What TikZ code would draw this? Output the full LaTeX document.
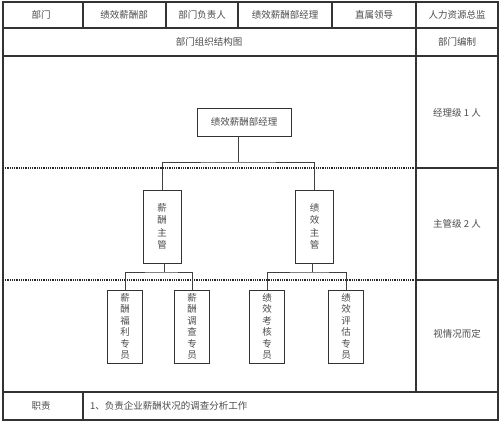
\documentclass[tikz,border=0pt]{standalone}
\usepackage{fontspec}
\newfontfamily\cjk{Noto Sans CJK SC}
\begin{document}
\begin{tikzpicture}[x=1pt,y=-1pt,
  tbl/.style={draw=black!80, line width=1.1pt},
  dotl/.style={draw=black!85, line width=1.6pt, dash pattern=on 1pt off 0.8pt},
  lbl/.style={font=\cjk\fontsize{9.5}{12}\selectfont, text=black!70, inner sep=0pt},
  box/.style={draw=black!80, line width=0.9pt, inner sep=0pt, font=\cjk\fontsize{9.5}{12.5}\selectfont, text=black!70, align=center},
  wire/.style={draw=black!75, line width=0.9pt}]
\fill[white] (0,0) rectangle (500,421);
\useasboundingbox (0,0) rectangle (500,421);
% table frame
\draw[tbl] (3,2) rectangle (498,420);
\draw[tbl] (3,28) -- (498,28);
\draw[tbl] (3,56) -- (498,56);
\draw[tbl] (3,392) -- (498,392);
\foreach \x in {83,166,238,332,416} \draw[tbl] (\x,2) -- (\x,28);
\draw[tbl] (416,28) -- (416,392);
\draw[tbl] (83,392) -- (83,420);
\draw[tbl] (416,168) -- (498,168);
\draw[tbl] (416,280) -- (498,280);
\draw[dotl] (3,168) -- (416,168);
\draw[dotl] (3,280) -- (416,280);
% header texts
\node[lbl] (h1) at (41,15) {部门};
\node[lbl] (h2) at (124,15) {绩效薪酬部};
\node[lbl] (h3) at (202,15) {部门负责人};
\node[lbl] (h4) at (285,15) {绩效薪酬部经理};
\node[lbl] (h5) at (374,15) {直属领导};
\node[lbl] (h6) at (457,15) {人力资源总监};
\node[lbl] (t1) at (209,42) {部门组织结构图};
\node[lbl] (t2) at (457,42) {部门编制};
\node[lbl] (r1) at (457,113) {经理级 1 人};
\node[lbl] (r2) at (457,224) {主管级 2 人};
\node[lbl] (r3) at (457,334) {视情况而定};
\node[lbl] (b1) at (41,406) {职责};
\node[lbl, anchor=west] (b2) at (90,406) {1、负责企业薪酬状况的调查分析工作};
% org chart
\node[box, minimum width=94, minimum height=28] (mgr) at (244,122) {绩效薪酬部经理};
\node[box, minimum width=38, minimum height=73] (s1) at (162,226.5) {薪\\酬\\主\\管};
\node[box, minimum width=38, minimum height=73] (s2) at (314.5,226.5) {绩\\效\\主\\管};
\node[box, minimum width=35, minimum height=73, font=\cjk\fontsize{9.5}{11.5}\selectfont] (st1) at (125,326.5) {薪\\酬\\福\\利\\专\\员};
\node[box, minimum width=35, minimum height=73, font=\cjk\fontsize{9.5}{11.5}\selectfont] (st2) at (192,326.5) {薪\\酬\\调\\查\\专\\员};
\node[box, minimum width=35, minimum height=73, font=\cjk\fontsize{9.5}{11.5}\selectfont] (st3) at (267,326.5) {绩\\效\\考\\核\\专\\员};
\node[box, minimum width=35, minimum height=73, font=\cjk\fontsize{9.5}{11.5}\selectfont] (st4) at (346,326.5) {绩\\效\\评\\估\\专\\员};
\coordinate (j0) at (238,162);
\coordinate (j1) at (164,272);
\coordinate (j2) at (312,272);
\draw[wire] (mgr.south -| j0) -- (j0);
\draw[wire] (s1.north) |- (j0) -| (s2.north);
\draw[wire] (s1.south -| j1) -- (j1);
\draw[wire] (st1.north) |- (j1) -| (st2.north);
\draw[wire] (s2.south -| j2) -- (j2);
\draw[wire] (st3.north) |- (j2) -| (st4.north);
\end{tikzpicture}
\end{document}
